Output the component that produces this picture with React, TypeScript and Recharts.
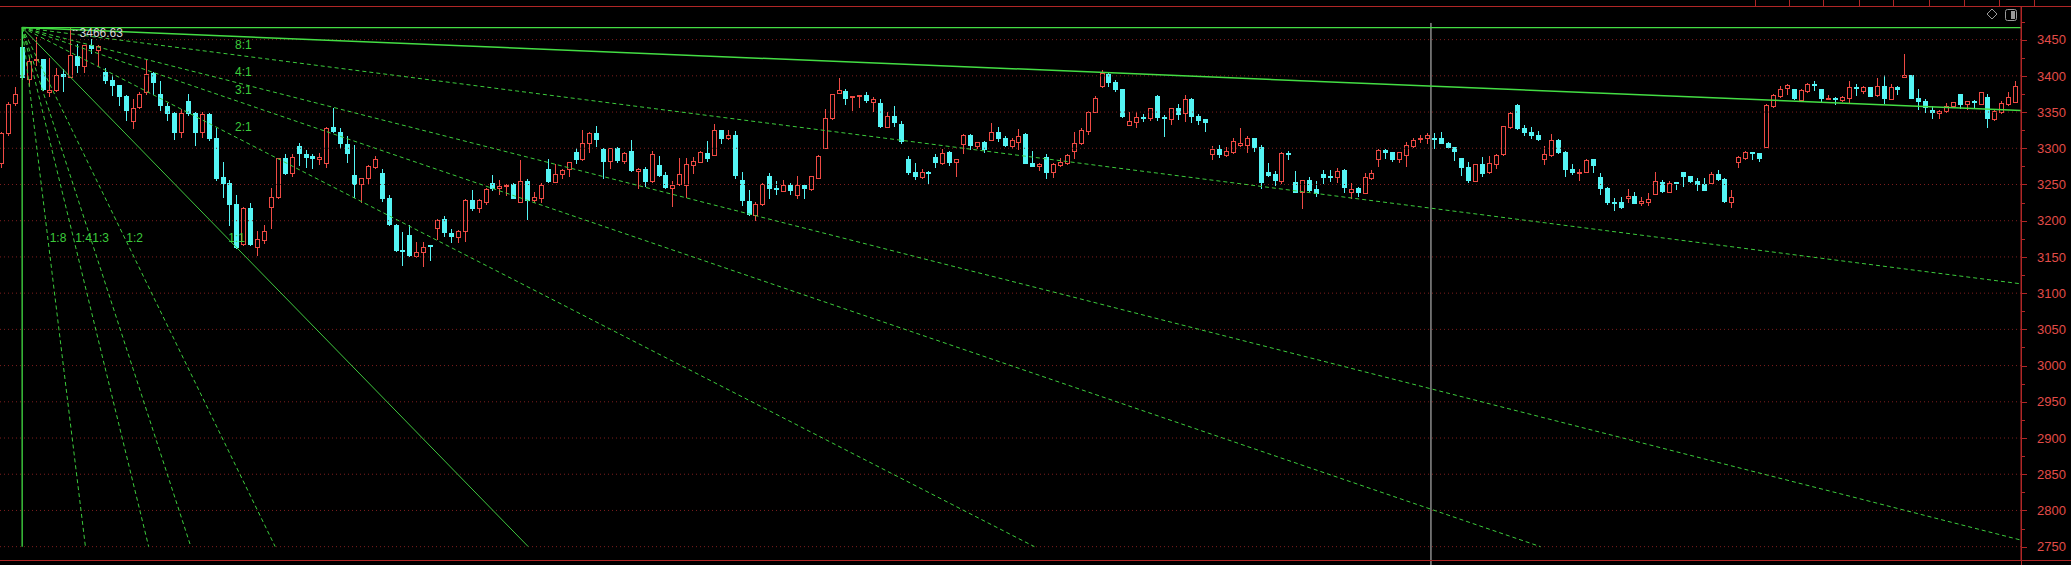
import React from "react";
import { ComposedChart, Bar, XAxis, YAxis, ReferenceLine, ReferenceDot } from "recharts";

// daily bars, oldest first
const OPEN = [
  3279.3, 3320.5, 3361.9, 3439.9, 3396.3, 3422, 3422.9, 3377.9, 3379.8, 3402.3,
  3398.6, 3427.5, 3413.7, 3442.2, 3435.8, 3405.5, 3394, 3387.1, 3372, 3337.5,
  3357.3, 3377, 3404.1, 3374.3, 3358.7, 3349, 3321.9, 3365.1, 3348.1, 3321.9,
  3347.2, 3313.7, 3260, 3251.7, 3222.8, 3167.3, 3217.3, 3163.1, 3173.7, 3219.6,
  3233.4, 3286.1, 3265.5, 3303.1, 3291.6, 3289.3, 3284.8, 3279.3, 3328.8, 3322.9,
  3305.4, 3263.2, 3250.3, 3259.5, 3274.7, 3265.5, 3232, 3194.4, 3159.9, 3179.7,
  3150.7, 3156.7, 3165.9, 3189.8, 3202.6, 3182.9, 3176.9, 3185.2, 3228.8, 3217.3,
  3226.5, 3251.7, 3244.8, 3248.5, 3250.8, 3226.5, 3255, 3227.9, 3232, 3271.4,
  3254, 3264.1, 3271.4, 3295.3, 3284.8, 3306.8, 3321.5, 3299, 3282.5, 3300.8,
  3282.5, 3296.2, 3268.2, 3271.4, 3254.5, 3277.4, 3263.2, 3244.8, 3250.3, 3249.4,
  3277, 3281.6, 3293.9, 3290.7, 3325.2, 3313.7, 3318.3, 3256.3, 3227.4, 3208.1,
  3222.8, 3261.8, 3244.8, 3241.6, 3249.4, 3235.7, 3249.4, 3243.4, 3259.5, 3300.8,
  3341.2, 3376.6, 3378.9, 3370.1, 3371.5, 3373.3, 3364.2, 3362.8, 3329.7, 3344.4,
  3333.4, 3285.2, 3267.8, 3260, 3267.8, 3287.5, 3280.2, 3295.3, 3280.6, 3305.9,
  3318.3, 3303.6, 3309.1, 3311.4, 3321.9, 3313.7, 3303.6, 3309.1, 3319.2, 3280.2,
  3275.6, 3287.5, 3266.9, 3277, 3280.2, 3296.7, 3306.8, 3324.2, 3350.4, 3385.7,
  3402.3, 3390.8, 3381.6, 3332, 3336.6, 3343.1, 3342.1, 3372, 3343.5, 3339.8,
  3355, 3349, 3367.8, 3344.4, 3339.8, 3292.5, 3298.5, 3290.7, 3295.3, 3304,
  3304.5, 3313.7, 3301.3, 3266.9, 3264.6, 3255.4, 3293.9, 3253.1, 3239.3, 3256.3,
  3243.4, 3264.6, 3261.8, 3260.9, 3270, 3239.3, 3244.8, 3238.8, 3259.5, 3284.8,
  3297.6, 3294.4, 3284.8, 3290.2, 3303.6, 3312.3, 3313.7, 3314.1, 3313.7, 3307.7,
  3301.3, 3286.1, 3273.7, 3255.4, 3277.9, 3267.8, 3278.4, 3291.6, 3329.7, 3359.6,
  3327.5, 3322.9, 3318.3, 3285.2, 3290.7, 3311.4, 3295.3, 3271.4, 3266.9, 3267.8,
  3284.8, 3260, 3245.7, 3225.6, 3225.6, 3232, 3234.3, 3224.2, 3226.5, 3237,
  3253.1, 3240.2, 3253.1, 3266.9, 3261.8, 3255.4, 3250.8, 3252.6, 3264.6, 3257.7,
  3226.5, 3281.6, 3287, 3295.3, 3293, 3302.2, 3358.7, 3372.4, 3383.4, 3381.6,
  3366.5, 3378.9, 3389.4, 3381.6, 3367.8, 3369.7, 3366.5, 3369.7, 3384.8, 3378.9,
  3384.8, 3373.3, 3386.2, 3367.8, 3384.8, 3398.6, 3400.9, 3369.7, 3365.1, 3352.7,
  3348.1, 3351.3, 3358.7, 3374.3, 3360.5, 3365.1, 3360.9, 3370.1, 3340.3, 3350.4,
  3360.5, 3364.2,
];

const HIGH = [
  3322.9, 3364.2, 3384.8, 3464.2, 3426.1, 3453.7, 3423.8, 3424.8, 3411, 3410,
  3466.63, 3444.5, 3443.1, 3451.4, 3442.2, 3411.4, 3400.9, 3388, 3373.3, 3367.8,
  3377, 3421.5, 3405.5, 3392.6, 3361.9, 3350.4, 3354.1, 3374.3, 3350.4, 3349.5,
  3348.1, 3327.5, 3281.6, 3256.3, 3235.7, 3219.6, 3224.2, 3185.2, 3194.4, 3244.8,
  3287, 3291.6, 3291.6, 3306.8, 3297.6, 3291.6, 3293.9, 3329.8, 3355.9, 3328.4,
  3317.3, 3304.5, 3259.5, 3277, 3288.9, 3271.4, 3235.7, 3195.3, 3184.3, 3193.4,
  3170.5, 3170.5, 3166, 3202.6, 3206.7, 3188.4, 3187.5, 3230.1, 3242.5, 3230.1,
  3245.7, 3263.2, 3256.3, 3250.3, 3251.7, 3283.8, 3257.7, 3239.3, 3251.7, 3285.2,
  3278.4, 3271.4, 3281.6, 3299.9, 3325.2, 3322.9, 3330.7, 3299.9, 3300.8, 3302.2,
  3295.3, 3311.4, 3272.4, 3273.7, 3296.2, 3289.8, 3266.9, 3254.9, 3286.1, 3287,
  3288.4, 3296.2, 3310, 3333.4, 3325.2, 3325.2, 3323.8, 3267.8, 3242.5, 3225.6,
  3251.7, 3265.5, 3254.9, 3256.3, 3251.7, 3261.8, 3249.4, 3262.3, 3290.7, 3354.1,
  3375.2, 3397.2, 3381.6, 3372.4, 3373.3, 3377.9, 3370.1, 3367.8, 3349.5, 3358.7,
  3338, 3289.3, 3280.2, 3271.4, 3268.7, 3291.6, 3299, 3296.2, 3285.2, 3319.6,
  3320.1, 3309.1, 3310, 3334.3, 3328.8, 3317.3, 3314.6, 3326.1, 3320.6, 3296.2,
  3279.3, 3291.6, 3279.3, 3287, 3291.6, 3321.9, 3328.4, 3351.3, 3372, 3407.8,
  3405.5, 3394, 3382.5, 3349.5, 3349.5, 3346.7, 3355.9, 3373.3, 3345.8, 3355.9,
  3361, 3373.3, 3368.8, 3346.7, 3339.8, 3303.1, 3304.5, 3301.3, 3314.6, 3327.5,
  3317.3, 3314.6, 3304.5, 3280.2, 3268.7, 3295.3, 3296.2, 3268.7, 3256.3, 3260,
  3254.9, 3270, 3270, 3272.4, 3271, 3251.7, 3247.1, 3265.5, 3270, 3298.5,
  3298.5, 3295.3, 3295.3, 3309.1, 3313.7, 3318.3, 3320.6, 3320.6, 3321.9, 3308.2,
  3302.2, 3287, 3280.6, 3278.4, 3288.4, 3289.3, 3291.6, 3331.1, 3349.5, 3360.5,
  3332, 3329.7, 3323.8, 3303.1, 3319.2, 3312.3, 3296.2, 3278.3, 3271.4, 3284.8,
  3285.2, 3265.5, 3246.2, 3231.9, 3233.4, 3243.4, 3239.3, 3233.4, 3237.9, 3266.9,
  3256.3, 3255.4, 3253.1, 3267.8, 3262.3, 3258.6, 3259.5, 3267.8, 3270, 3258.6,
  3242.5, 3289.8, 3296.2, 3295.3, 3293.9, 3360.5, 3374.3, 3386.2, 3388.5, 3382.5,
  3381.6, 3390.3, 3392.6, 3382.5, 3373.3, 3371, 3372, 3392.6, 3388.5, 3386.2,
  3384.8, 3397.2, 3400.9, 3389.4, 3386.2, 3429.8, 3401.8, 3381.6, 3367.8, 3358.7,
  3352.7, 3361.9, 3364.2, 3375.6, 3365.6, 3366.5, 3377.9, 3375.6, 3352.7, 3365.1,
  3377, 3393.1,
];

const LOW = [
  3274.7, 3319, 3359.6, 3396.3, 3387.1, 3414.7, 3380.2, 3372.4, 3378.9, 3378.9,
  3398.1, 3405.5, 3404.6, 3432.1, 3413.7, 3390.3, 3373.3, 3359.6, 3338.9, 3328.4,
  3355.9, 3375.6, 3375.6, 3352.7, 3338.9, 3312.3, 3316, 3345.8, 3304.5, 3316,
  3311.4, 3256.3, 3233.4, 3194.4, 3162.2, 3166.4, 3166.4, 3152.1, 3169.1, 3189.8,
  3232, 3264.1, 3262.3, 3277, 3274.7, 3272.4, 3277.9, 3274.7, 3322.9, 3300.8,
  3281.6, 3233.4, 3226.5, 3250.3, 3273.3, 3227.4, 3194.4, 3158.5, 3138.4, 3151.2,
  3149.4, 3137, 3146.2, 3175.1, 3178.3, 3170, 3170, 3172.3, 3215, 3212.7,
  3223.3, 3242.5, 3236.6, 3235.7, 3231.1, 3226.5, 3202.1, 3226.5, 3226.5, 3254,
  3253.1, 3259.5, 3262.3, 3280.2, 3283.8, 3294.4, 3303.6, 3258.6, 3272.4, 3281.6,
  3280.2, 3268.7, 3244.8, 3248, 3254, 3262.3, 3245.7, 3220.9, 3249.4, 3233.4,
  3265.5, 3280.6, 3282.5, 3290.7, 3306.8, 3312.8, 3258.6, 3221, 3208.1, 3200.3,
  3221.9, 3232, 3237, 3241.2, 3236.6, 3232, 3232, 3242.5, 3258.6, 3299.9,
  3340.3, 3376.6, 3360.9, 3352.7, 3356.8, 3364.2, 3351.3, 3329.7, 3328.8, 3331.1,
  3307.7, 3264.1, 3257.7, 3258.6, 3252.6, 3274.7, 3278.3, 3277, 3261.8, 3293,
  3298.5, 3299.9, 3295.3, 3311.4, 3310.5, 3303.6, 3299.9, 3299, 3279.3, 3275.6,
  3270.1, 3258.6, 3260.9, 3276, 3277.9, 3287, 3305.4, 3319.2, 3349.5, 3384.8,
  3386.2, 3379.3, 3343.1, 3332, 3329.7, 3337.5, 3338.9, 3338.9, 3317.3, 3333.4,
  3339.8, 3338, 3335.7, 3333.4, 3323.8, 3284.8, 3287.5, 3289.8, 3293.9, 3303.1,
  3295.3, 3296.2, 3244.8, 3262.3, 3249.4, 3251.7, 3285.2, 3239.3, 3218.2, 3241.6,
  3234.7, 3252.6, 3255.4, 3254, 3240.2, 3232, 3234.7, 3237.9, 3257.7, 3276,
  3287, 3282.9, 3281.6, 3276, 3302.2, 3309.1, 3307.7, 3300.8, 3306.8, 3299.9,
  3284.3, 3263.2, 3254, 3254.9, 3262.3, 3265.5, 3272.4, 3290.7, 3327.5, 3326.5,
  3318.3, 3314.6, 3311.4, 3277.9, 3289.8, 3293, 3262.3, 3264.6, 3256.3, 3266.9,
  3267.8, 3237, 3223.3, 3215, 3217.3, 3226.5, 3224.2, 3221, 3221, 3236.6,
  3240.2, 3239.3, 3243.9, 3248, 3253.1, 3242.5, 3242.5, 3251.7, 3256.3, 3226.5,
  3219.6, 3274.7, 3285.2, 3285.2, 3282.9, 3301.3, 3356.4, 3371, 3374.7, 3367.8,
  3365.1, 3377, 3380.2, 3364.2, 3367.4, 3360.5, 3365.1, 3364.2, 3373.3, 3376.6,
  3372, 3372.4, 3361.9, 3367.4, 3374.7, 3398.6, 3368.8, 3354.1, 3349.5, 3342.1,
  3342.1, 3349.5, 3357.3, 3355, 3353.6, 3356.4, 3360.5, 3329.7, 3339.4, 3349,
  3359.6, 3363.2,
];

const CLOSE = [
  3320.5, 3360.5, 3374.3, 3398.6, 3420.1, 3423.5, 3382.5, 3379.8, 3401.8, 3400,
  3429.3, 3414.7, 3442.2, 3439, 3441.7, 3394, 3387.1, 3372, 3352.7, 3355.9,
  3375.6, 3403.2, 3390.8, 3359.6, 3349, 3322.9, 3348.1, 3349, 3322.9, 3346.7,
  3313.7, 3258.6, 3252.6, 3222.8, 3163.1, 3217.3, 3167.3, 3174.6, 3186.1, 3233.4,
  3286.1, 3265.5, 3287.5, 3293, 3288.4, 3286.1, 3287.5, 3328.4, 3323.8, 3307.7,
  3293, 3250.8, 3258.6, 3275.6, 3285.2, 3232, 3195.3, 3159.9, 3159, 3152.1,
  3156.7, 3163.6, 3164.9, 3201.2, 3184.3, 3178.3, 3186.1, 3228.8, 3218.2, 3228.8,
  3243.9, 3245.7, 3248, 3249.9, 3232, 3255, 3228.8, 3233.4, 3249.4, 3255,
  3264.1, 3270.1, 3280.6, 3285.2, 3306.8, 3320.6, 3312.8, 3282.5, 3299.9, 3283.8,
  3294, 3269.6, 3271.4, 3255.4, 3291.6, 3263.2, 3246.2, 3249.4, 3264.1, 3277.9,
  3282.5, 3294.4, 3287, 3325.2, 3314.6, 3318.3, 3263.2, 3227.9, 3209.5, 3223.3,
  3250.3, 3245.7, 3243.4, 3249.4, 3242.5, 3249.4, 3244.8, 3261.8, 3289.3, 3341.2,
  3374.3, 3379.8, 3369.7, 3372, 3373.3, 3366, 3367.8, 3331.1, 3344.4, 3335.7,
  3310, 3267.8, 3261.8, 3266.9, 3265.5, 3281.6, 3293.9, 3281.6, 3285.2, 3318.3,
  3304.5, 3308.2, 3299, 3321.9, 3314.6, 3304.5, 3311.4, 3316.9, 3280.2, 3276.1,
  3277.9, 3267.8, 3278.4, 3281.6, 3290.7, 3306.8, 3325.2, 3350.4, 3368.8, 3404.1,
  3391.7, 3382.5, 3344.4, 3337.5, 3342.6, 3342.1, 3355, 3343.5, 3341.2, 3355,
  3347.2, 3367.8, 3344.4, 3338.9, 3335.7, 3299, 3292.5, 3296.2, 3310, 3307.2,
  3313.7, 3302.2, 3254, 3263.2, 3256.3, 3293.9, 3293, 3240.2, 3256.3, 3242.5,
  3237.9, 3260.9, 3260.9, 3269.1, 3247.1, 3243.9, 3240.2, 3259.9, 3266.4, 3297.6,
  3295.3, 3285.2, 3294.4, 3304.5, 3311.4, 3313.7, 3318.3, 3313.2, 3307.7, 3302.2,
  3296.7, 3274.7, 3256.3, 3277.9, 3266.4, 3279.3, 3290.7, 3330.7, 3349, 3327.5,
  3322.9, 3318.3, 3312.8, 3291.6, 3311.4, 3294.4, 3271.4, 3266.9, 3267.8, 3283.8,
  3277, 3245.7, 3226.5, 3224.6, 3218.7, 3233.8, 3225.1, 3227.4, 3230.1, 3254.9,
  3241.2, 3251.7, 3251.7, 3261.8, 3255.4, 3250.3, 3242.5, 3264.6, 3257.7, 3227.4,
  3233.4, 3288.4, 3295.3, 3293.9, 3287, 3359.6, 3373.3, 3382.5, 3388, 3368.8,
  3380.2, 3389.4, 3387.1, 3368.8, 3368.8, 3368.8, 3371, 3384.8, 3383.4, 3384.8,
  3372, 3385.7, 3368.8, 3384.8, 3381.6, 3401.8, 3369.7, 3365.1, 3357.3, 3350.4,
  3351.8, 3358.2, 3363.2, 3360.5, 3365.1, 3363.2, 3377, 3342.1, 3351.3, 3361.9,
  3371, 3386.2,
];

const PRICE_LABELS = [3450, 3400, 3350, 3300, 3250, 3200, 3150, 3100, 3050, 3000, 2950, 2900, 2850, 2800, 2750];
const PRICE_TICKS = [
  2750, 2775, 2800, 2825, 2850, 2875, 2900, 2925, 2950, 2975, 3000, 3025, 3050, 3075, 3100,
  3125, 3150, 3175, 3200, 3225, 3250, 3275, 3300, 3325, 3350, 3375, 3400, 3425, 3450, 3475,
];

// gann fan hung from the top, 1:1 = FAN_UNIT points per bar
const FAN_ANCHOR = 3;
const FAN_UNIT = 9.8;
const FAN_FLOOR = 2750;
const FAN_RATIOS = ["8:1", "4:1", "3:1", "2:1", "1:1", "1:2", "1:3", "1:4", "1:8"];
const TREND_END = 3352; // value of the top trendline at the right edge
const CURSOR_BAR = 206.55;

const X_MIN = -0.2;
const X_MAX = 291.8;
const Y_MIN = 2731.6;
const Y_MAX = 3496.4;

const UP = "#EE4A44";
const DOWN = "#54F5F5";
const GREEN = "#44DD44";
const GREEN_DASH = "#3CCB3C";
const GRID = "#7E1E1E";
const AXIS = "#B02626";
const AXIS_TEXT = "#E24C48";
const FONT = "'Liberation Sans', Arial, sans-serif";

// toolbar button dividers along the top edge
const TOOLBAR_DIVIDERS = [1755, 1789, 1823, 1859, 1893, 1929, 1964, 1999, 2034];

const candles = OPEN.map((open, i) => ({ i, open, high: HIGH[i], low: LOW[i], close: CLOSE[i] }));
const peakIndex = HIGH.indexOf(Math.max(...HIGH));
const peak = HIGH[peakIndex];

const fanLines = FAN_RATIOS.map((label) => {
  const [t, p] = label.split(":").map(Number);
  const slope = (FAN_UNIT * p) / t;
  let bars = (peak - FAN_FLOOR) / slope;
  if (FAN_ANCHOR + bars > X_MAX) bars = X_MAX - FAN_ANCHOR;
  return { label, t, p, slope, end: { x: FAN_ANCHOR + bars, y: peak - slope * bars } };
});

function Candle(props: any) {
  const { x, y, width, height, payload } = props;
  if (x == null || payload == null) return null;
  const { open, close, high, low } = payload;
  const top = Math.min(y, y + height);
  const span = Math.abs(height);
  const range = high - low;
  const toPx = (v: number) => (range > 0 ? top + ((high - v) / range) * span : top);
  const cx = Math.round(x + width / 2);
  const up = close >= open;
  const color = up ? UP : DOWN;
  const hi = Math.round(toPx(high));
  const lo = Math.round(toPx(low));
  const bTop = Math.round(toPx(Math.max(open, close)));
  const bBot = Math.round(toPx(Math.min(open, close)));
  const left = cx - 2;
  if (bBot - bTop < 2) {
    return (
      <g shapeRendering="crispEdges">
        <line x1={cx + 0.5} x2={cx + 0.5} y1={hi} y2={lo + 1} stroke={color} />
        <rect x={left} y={bTop} width={5} height={1.5} fill={color} />
      </g>
    );
  }
  if (up) {
    return (
      <g shapeRendering="crispEdges">
        <line x1={cx + 0.5} x2={cx + 0.5} y1={hi} y2={bTop} stroke={color} />
        <line x1={cx + 0.5} x2={cx + 0.5} y1={bBot} y2={lo + 1} stroke={color} />
        <rect x={left + 0.5} y={bTop + 0.5} width={4} height={bBot - bTop} fill="none" stroke={color} />
      </g>
    );
  }
  return (
    <g shapeRendering="crispEdges">
      <line x1={cx + 0.5} x2={cx + 0.5} y1={hi} y2={lo + 1} stroke={color} />
      <rect x={left} y={bTop} width={5} height={bBot - bTop + 1} fill={color} />
    </g>
  );
}

function PriceTick(props: any) {
  const { x, y, payload } = props;
  const v = payload.value;
  const major = v % 50 === 0;
  const yy = Math.round(y) + 0.5;
  return (
    <g>
      <line x1={x} x2={x + (major ? 6 : 4)} y1={yy} y2={yy} stroke={AXIS} shapeRendering="crispEdges" />
      {major && (
        <text x={x + 16} y={y} dy="0.36em" fill={AXIS_TEXT} fontSize={13} fontFamily={FONT}>
          {v}
        </text>
      )}
    </g>
  );
}

const fanLabel = (text: string, dx: number, dy: number) => (p: any) => (
  <text x={p.cx + dx} y={p.cy + dy} fill={GREEN_DASH} fontSize={12} fontFamily={FONT}>
    {text}
  </text>
);

const peakLabel = (p: any) => (
  <g>
    <line x1={p.cx + 2} x2={p.cx + 7} y1={p.cy + 3} y2={p.cy + 3} stroke="#C8C8C8" strokeDasharray="2 1" />
    <text x={p.cx + 9} y={p.cy + 9} fill="#D6D6D6" fontSize={12} fontFamily={FONT}>
      {peak.toFixed(2)}
    </text>
  </g>
);

export default function App() {
  const lowerLevel = peak - 29.5 * FAN_UNIT;
  return (
    <div style={{ position: "fixed", left: 0, top: 0, width: 2071, height: 565, background: "#000", overflow: "hidden" }}>
      <ComposedChart width={2071} height={565} data={candles} margin={{ top: 6, right: 0, bottom: 5, left: 0 }}>
        <XAxis dataKey="i" type="number" domain={[X_MIN, X_MAX]} allowDataOverflow hide />
        <YAxis
          orientation="right"
          width={50}
          domain={[Y_MIN, Y_MAX]}
          allowDataOverflow
          ticks={PRICE_TICKS}
          interval={0}
          tickSize={0}
          tickMargin={0}
          tickLine={false}
          axisLine={{ stroke: AXIS }}
          tick={<PriceTick />}
        />
        {PRICE_LABELS.map((v) => (
          <ReferenceLine key={v} y={v} stroke={GRID} strokeDasharray="1 3" />
        ))}
        <Bar
          dataKey={(d: any) => [d.low, d.high]}
          barSize={7}
          shape={<Candle />}
          isAnimationActive={false}
        />
        <ReferenceLine
          segment={[{ x: CURSOR_BAR, y: 3473 }, { x: CURSOR_BAR, y: 2724 }]}
          stroke="#CFCFCF"
          ifOverflow="visible"
        />
        <ReferenceLine
          segment={[{ x: FAN_ANCHOR, y: peak }, { x: X_MAX, y: peak }]}
          stroke={GREEN}
          strokeWidth={1.3}
          ifOverflow="visible"
        />
        <ReferenceLine
          segment={[{ x: FAN_ANCHOR, y: peak }, { x: FAN_ANCHOR, y: FAN_FLOOR }]}
          stroke={GREEN}
          strokeWidth={1.3}
          ifOverflow="visible"
        />
        <ReferenceLine
          segment={[{ x: FAN_ANCHOR, y: peak }, { x: X_MAX, y: TREND_END }]}
          stroke={GREEN}
          strokeWidth={1.5}
          ifOverflow="visible"
        />
        {fanLines.map((f) => (
          <ReferenceLine
            key={f.label}
            segment={[{ x: FAN_ANCHOR, y: peak }, f.end]}
            stroke={f.t === f.p ? "#3FC83F" : GREEN_DASH}
            strokeDasharray={f.t === f.p ? undefined : "4 3"}
            ifOverflow="visible"
          />
        ))}
        {fanLines.map((f) =>
          f.t > f.p ? (
            <ReferenceDot
              key={"l" + f.label}
              x={FAN_ANCHOR + 30.75}
              y={peak - 30.75 * f.slope}
              r={0}
              shape={fanLabel(f.label, 0, -6)}
            />
          ) : (
            <ReferenceDot
              key={"l" + f.label}
              x={FAN_ANCHOR + (29.5 * f.t) / f.p}
              y={lowerLevel}
              r={0}
              shape={fanLabel(f.label, 2, 5)}
            />
          )
        )}
        <ReferenceDot x={peakIndex} y={peak} r={0} shape={peakLabel} />
      </ComposedChart>
      <svg width={2071} height={565} style={{ position: "absolute", left: 0, top: 0, pointerEvents: "none" }}>
        <line x1={0} x2={2071} y1={6.5} y2={6.5} stroke={AXIS} shapeRendering="crispEdges" />
        <line x1={0} x2={2071} y1={560.5} y2={560.5} stroke={AXIS} shapeRendering="crispEdges" />
        <line x1={2021.5} x2={2021.5} y1={6} y2={565} stroke={AXIS} shapeRendering="crispEdges" />
        {TOOLBAR_DIVIDERS.map((d) => (
          <line key={d} x1={d + 0.5} x2={d + 0.5} y1={0} y2={6} stroke={AXIS} shapeRendering="crispEdges" />
        ))}
        <path d="M1992 9 L1997 14 L1992 19 L1987 14 Z" fill="none" stroke="#9A9A9A" />
        <rect x={2005.5} y={9.5} width={11} height={11} rx={2} fill="none" stroke="#9A9A9A" />
        <rect x={2011} y={11} width={4} height={8} fill="#9A9A9A" />
      </svg>
    </div>
  );
}
